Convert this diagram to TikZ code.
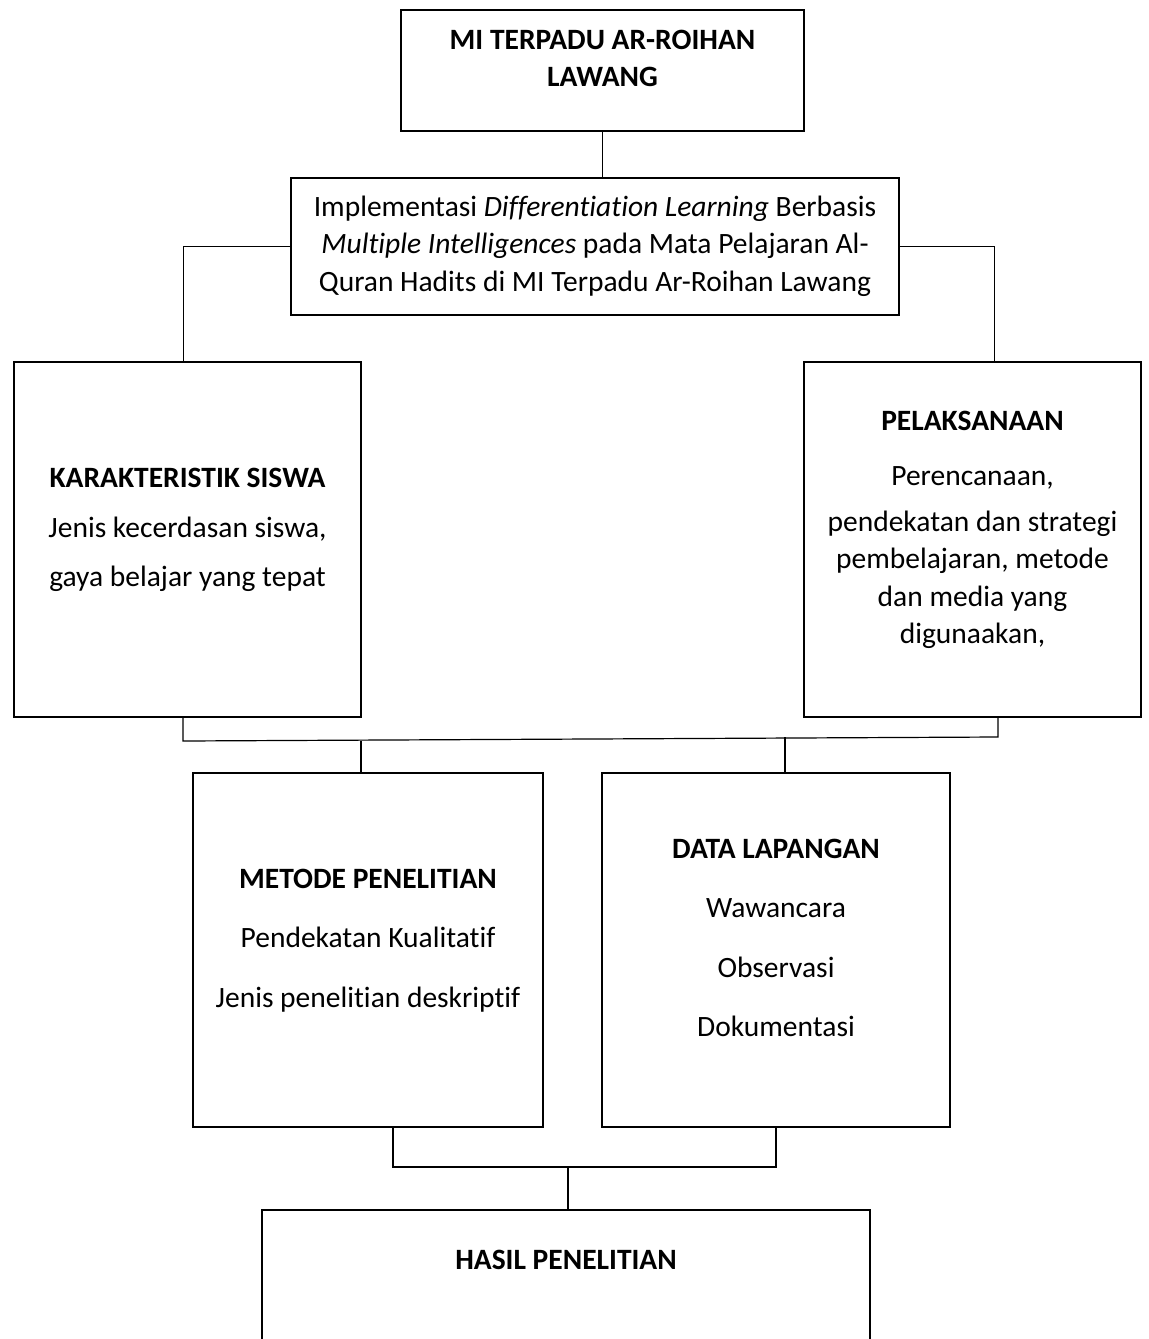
\documentclass[tikz,border=0pt]{standalone}
\usepackage{fontspec}
\setmainfont{Carlito}[Ligatures=NoCommon]
\usetikzlibrary{positioning}

\begin{document}
\begin{tikzpicture}[x=0.5pt,y=-0.5pt]

\tikzset{box/.style = {shape=rectangle,draw,line width=1pt,align=center,inner sep=0pt,text depth=12pt,font=\fontsize{14.75pt}{18.75pt}\selectfont}}
\tikzset{line/.style = {line width=0.6pt}}
\useasboundingbox (0,0) rectangle (1148,1339);
%boxes
\node[box, minimum width=201.5pt, minimum height=60.5pt] (top) at (602.5,70.5) {\textbf{MI TERPADU AR-ROIHAN}\\ \textbf{LAWANG}};
\node[box, minimum width=304pt, minimum height=68.5pt, text depth=3pt] (impl) at (595,246.5) {Implementasi \textit{Differentiation Learning} Berbasis\\ \textit{Multiple Intelligences} pada Mata Pelajaran Al-\\ Quran Hadits di MI Terpadu Ar-Roihan Lawang};
\node[box, minimum width=173.5pt, minimum height=177.5pt] (kar) at (187.5,539.5) {\textbf{KARAKTERISTIK SISWA}\\[6pt] Jenis kecerdasan siswa,\\[6pt] gaya belajar yang tepat};
\node[box, minimum width=168.5pt, minimum height=177.5pt] (pel) at (972.5,539.5) {\textbf{PELAKSANAAN}\\[9pt] Perencanaan,\\[4pt] pendekatan dan strategi\\ pembelajaran, metode\\ dan media yang\\ digunaakan,};
\node[box, minimum width=175pt, minimum height=177pt] (metode) at (368,950) {\textbf{METODE PENELITIAN}\\[11pt] Pendekatan Kualitatif\\[11pt] Jenis penelitian deskriptif};
\node[box, minimum width=174pt, minimum height=177pt] (data) at (776,950) {\textbf{DATA LAPANGAN}\\[11pt] Wawancara\\[11pt] Observasi\\[11pt] Dokumentasi};
\node[box, anchor=north, minimum width=304pt, inner ysep=20pt, text depth=70pt] (hasil) at (566,1209) {\textbf{HASIL PENELITIAN}};
%joints
\coordinate (busL) at (183,741);
\coordinate (busR) at (998,737);
\coordinate (busB) at (568,1167);
%lines
\draw[line] (top.south) -- (top.south |- impl.north);
\draw[line] (impl.west) -| ([xshift=-2pt]kar.north);
\draw[line] (impl.east) -| ([xshift=11pt]pel.north);
\draw[line] (kar.south -| busL) -- (busL) -- (busR) -- (pel.south -| busR);
\draw[line] ([xshift=-3.5pt]metode.north) -- ([xshift=-3.5pt]metode.north |- busL);
\draw[line] ([xshift=4.5pt]data.north) -- ([xshift=4.5pt]data.north |- busR);
\draw[line] ([xshift=12.5pt]metode.south) |- (busB) -| (data.south);
\draw[line] (busB) -- (busB |- hasil.north);

\end{tikzpicture}
\end{document}
